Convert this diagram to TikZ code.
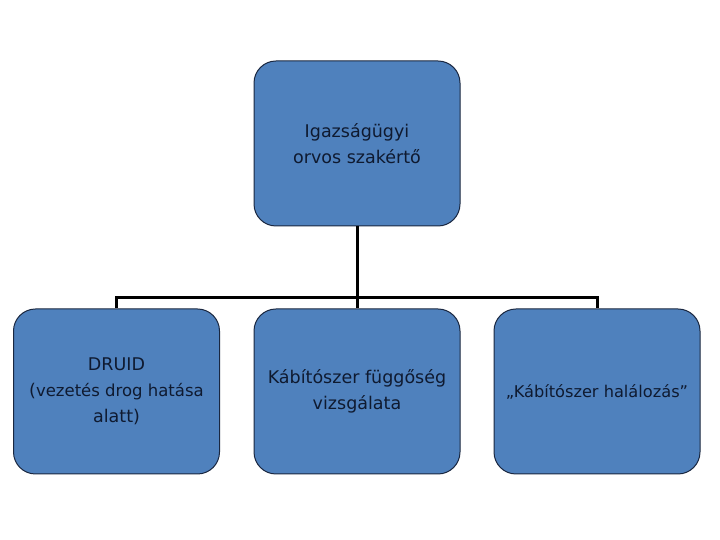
\documentclass[tikz,border=0pt]{standalone}
\usepackage{fontspec}
\setmainfont{DejaVu Sans}
\definecolor{boxfill}{HTML}{4F81BD}
\definecolor{boxline}{HTML}{1A2740}
\definecolor{txt}{HTML}{0F1A30}
\begin{document}
\begin{tikzpicture}[x=1pt,y=1pt,
  orgbox/.style={draw=boxline, line width=1pt, fill=boxfill, rounded corners=22pt,
    minimum width=206pt, minimum height=165pt, align=center, text=txt,
    font=\fontsize{17.5}{26}\selectfont, inner sep=0pt},
  link/.style={draw=black, line width=3pt}]
\useasboundingbox (0,0) rectangle (720,540);
\node[orgbox] (top) at (357,396.5) {Igazságügyi\\ orvos szakértő};
\node[orgbox] (a) at (116.5,148.5) {DRUID\\({\fontsize{16.5}{26}\selectfont vezetés drog hatása}\\alatt)};
\node[orgbox] (b) at (357,148.5) {Kábítószer függőség\\vizsgálata};
\node[orgbox] (c) at (597,148.5) {{\fontsize{16.2}{26}\selectfont „Kábítószer halálozás”}};
\coordinate (bar) at (357,242);
\draw[link] (top.south) -- (b.north);
\draw[link] (a.north) -- (a.north |- bar) -- (c.north |- bar) -- (c.north);
\end{tikzpicture}
\end{document}
